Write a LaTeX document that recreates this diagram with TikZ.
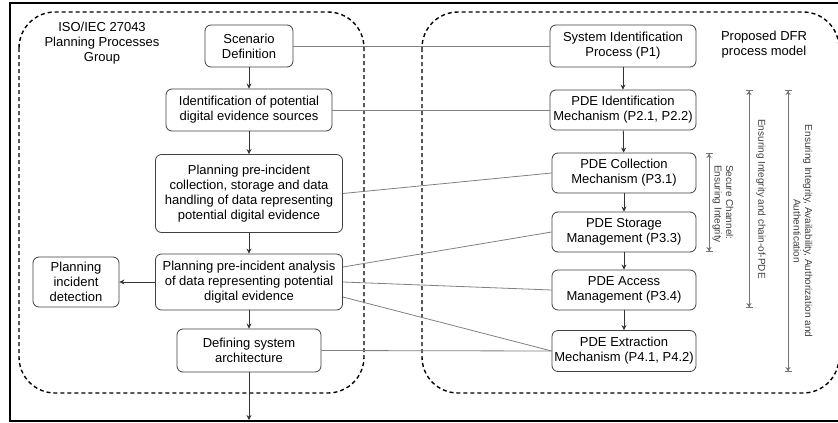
\documentclass[tikz,border=0pt]{standalone}
\usepackage{fontspec}
\setmainfont{Liberation Sans}
\usetikzlibrary{arrows.meta,calc}
\begin{document}
\begin{tikzpicture}[x=1pt,y=-1pt,
  box/.style={draw=black!75,line width=0.8pt,rounded corners=6pt,align=center,inner sep=0pt,
    font=\fontsize{13}{15}\selectfont},
  flow/.style={draw=black!80,line width=0.8pt,-{Stealth[length=5pt,width=5pt]}},
  link/.style={draw=black!50,line width=0.8pt},
  group/.style={draw=black,line width=1.4pt,dash pattern=on 4pt off 3pt,rounded corners=36pt},
  span/.style={draw=black!55,line width=0.9pt,
    {Bar[width=7pt]Stealth[length=4pt,width=5pt]}-{Stealth[length=4pt,width=5pt]Bar[width=7pt]}},
  lbl/.style={align=center,inner sep=0pt,font=\fontsize{13}{15}\selectfont},
  side/.style={rotate=-90,inner sep=0pt,text=black!75,font=\fontsize{10}{11.5}\selectfont}
]
\useasboundingbox (0,0) rectangle (838,423);
\fill[white] (0,0) rectangle (838,423);
% outer frame
\draw[line width=2pt] (10,3) rectangle (850,421);
% groups
\draw[group] (19,12) rectangle (364,393);
\draw[group] (422,12) rectangle (839,393);
% group titles
\node[lbl] (t1) at (102,43) {ISO/IEC 27043\\Planning Processes\\Group};
\node[lbl] (t2) at (764,45) {Proposed DFR\\process model};
% left nodes
\node[box,minimum width=88pt,minimum height=42pt] (sd) at (249,46) {Scenario\\Definition};
\node[box,minimum width=166pt,minimum height=42pt] (idp) at (249,110) {Identification of potential\\digital evidence sources};
\node[box,minimum width=187pt,minimum height=78pt] (plc) at (249,193.5) {Planning pre-incident\\collection, storage and data\\handling of data representing\\potential digital evidence};
\node[box,minimum width=187pt,minimum height=56pt] (pla) at (249,282) {Planning pre-incident analysis\\of data representing potential\\digital evidence};
\node[box,minimum width=86pt,minimum height=50pt] (pid) at (76,282) {Planning\\incident\\detection};
\node[box,minimum width=144pt,minimum height=43pt] (dsa) at (249,350.5) {Defining system\\architecture};
\coordinate (out) at (249,420);
% right nodes
\node[box,minimum width=146pt,minimum height=42pt] (p1) at (623,46) {System Identification\\Process (P1)};
\node[box,minimum width=146pt,minimum height=40pt] (p2) at (623,110) {PDE Identification\\Mechanism (P2.1, P2.2)};
\node[box,minimum width=144pt,minimum height=40pt] (p31) at (624,173) {PDE Collection\\Mechanism (P3.1)};
\node[box,minimum width=144pt,minimum height=40pt] (p33) at (624,232) {PDE Storage\\Management (P3.3)};
\node[box,minimum width=144pt,minimum height=40pt] (p34) at (624,290) {PDE Access\\Management (P3.4)};
\node[box,minimum width=144pt,minimum height=41pt] (p4) at (624,351) {PDE Extraction\\Mechanism (P4.1, P4.2)};
% flow arrows
\draw[flow] (sd) -- (idp);
\draw[flow] (idp) -- (plc);
\draw[flow] (plc) -- (pla);
\draw[flow] (pla) -- (dsa);
\draw[flow] (pla) -- (pid);
\draw[flow] (dsa) -- (out);
\draw[flow] (p1) -- (p2);
\draw[flow] (p2) -- (p31);
\draw[flow] (p31) -- (p33);
\draw[flow] (p33) -- (p34);
\draw[flow] (p34) -- (p4);
% links
\draw[link] (sd.east) -- (p1.west);
\draw[link] (idp.east) -- (p2.west);
\draw[link] (plc.east) -- (p31.west);
\draw[link] ($(pla.east)+(0,-15)$) -- (p33.west);
\draw[link] (pla.east) -- (p34.west);
\draw[link] ($(pla.east)+(0,15)$) -- (p4.west);
\draw[link] (dsa.east) -- (p4.west);
% spans
\coordinate (s1a) at (709,153); \coordinate (s1b) at (709,252);
\coordinate (s2a) at (749,90);  \coordinate (s2b) at (749,308);
\coordinate (s3a) at (788,90);  \coordinate (s3b) at (788,372);
\draw[span] (s1a) -- (s1b);
\draw[span] (s2a) -- (s2b);
\draw[span] (s3a) -- (s3b);
\node[side,align=left] (l1) at (723,204) {Secure Channel:\\Ensuring Integrity};
\node[side,align=center] (l2) at (761,199) {Ensuring Integrity and chain-of-PDE};
\node[side,align=center] (l3) at (803,231) {Ensuring Integrity, Availability, Authorization and\\Authentication};
\end{tikzpicture}
\end{document}
